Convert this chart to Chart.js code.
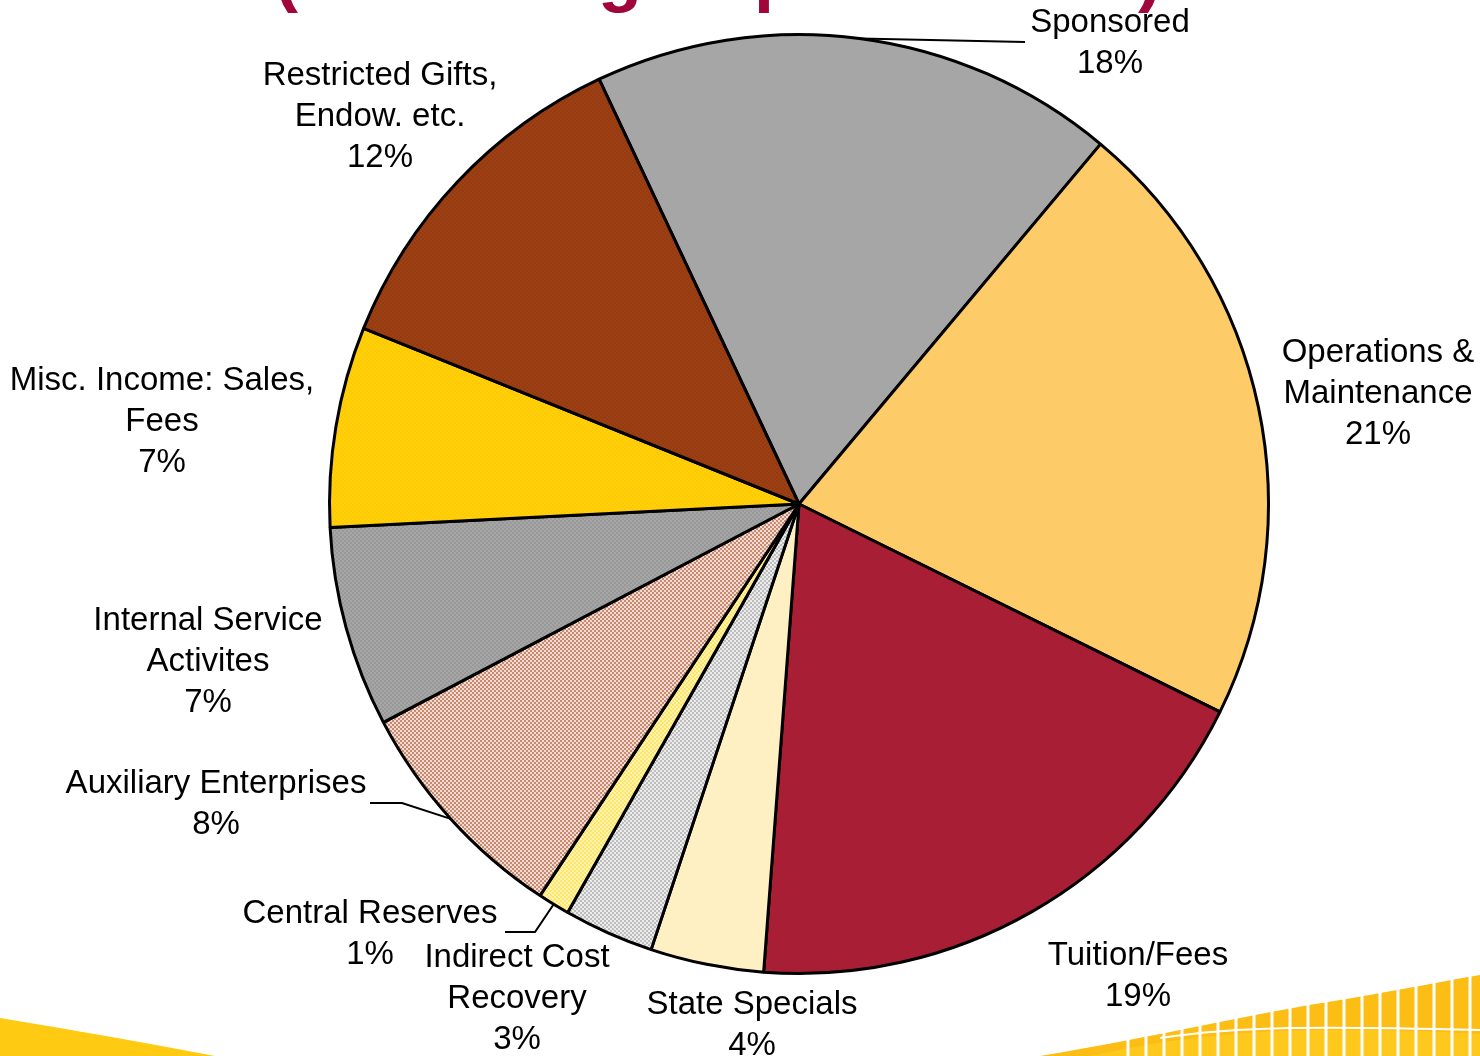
<!DOCTYPE html>
<html>
<head>
<meta charset="utf-8">
<script src="https://cdn.jsdelivr.net/npm/chart.js@4.4.1/dist/chart.umd.min.js"></script>
<style>
  html, body { margin: 0; padding: 0; background: #fff; }
  #wrap { width: 1480px; height: 1056px; position: relative; overflow: hidden; }
</style>
</head>
<body>
<div id="wrap"><canvas id="budgetPie" width="1480" height="1056"></canvas></div>
<script>
// slices, clockwise from the top
const categories = [
  'Sponsored',
  'Operations &\nMaintenance',
  'Tuition/Fees',
  'State Specials',
  'Indirect Cost\nRecovery',
  'Central Reserves',
  'Auxiliary Enterprises',
  'Internal Service\nActivites',
  'Misc. Income: Sales,\nFees',
  'Restricted Gifts,\nEndow. etc.'
];
const shares = [18.1, 21.2, 18.9, 3.9, 3.1, 1.1, 8.0, 6.9, 6.9, 11.9];

const titleText = '(Excluding Capital Funds)';

// label placement (first line centre, relative to pie centre) - layout only
const labelOffsets = [
  [311, -481], [579, -151], [339, 452], [-47, 501], [-282, 454],
  [-429, 410], [-583, 280], [-591, 117], [-637, -123], [-419, -428]
];
// elbow of leader lines, relative to pie centre (null = no leader)
const leaderElbows = [
  [[226, -462]], null, null, null, null,
  [[-294, 428], [-264, 428]], [[-429, 299], [-397, 299]], null, null, null
];

function checker(a, b, size) {
  const c = document.createElement('canvas');
  c.width = size * 2; c.height = size * 2;
  const g = c.getContext('2d');
  g.fillStyle = b; g.fillRect(0, 0, size * 2, size * 2);
  g.fillStyle = a;
  g.fillRect(0, 0, size, size);
  g.fillRect(size, size, size, size);
  return g.createPattern(c, 'repeat');
}

const ctxMain = document.getElementById('budgetPie').getContext('2d');
const sliceFills = [
  '#a6a6a6',
  '#fecb69',
  '#a81e35',
  '#fef0c3',
  checker('#bdbdbd', '#ececec', 2),
  checker('#ffe66a', '#fff3b0', 2),
  checker('#c98a70', '#f0dcd2', 2),
  checker('#999999', '#a6a6a6', 2),
  checker('#ffcb00', '#ffd00e', 2),
  checker('#943b11', '#9e4014', 2)
];

const backdrop = {
  id: 'backdrop',
  beforeDraw(chart) {
    const { ctx, width, height } = chart;
    ctx.save();
    ctx.fillStyle = '#fff';
    ctx.fillRect(0, 0, width, height);

    // cut-off title
    ctx.font = "bold 72px 'Liberation Sans', Arial, sans-serif";
    ctx.fillStyle = '#a1063a';
    ctx.textAlign = 'center';
    ctx.textBaseline = 'alphabetic';
    ctx.fillText(titleText, 718, -2);

    // bottom-left swoosh
    ctx.fillStyle = '#fecb12';
    ctx.beginPath();
    ctx.moveTo(0, 1018);
    ctx.quadraticCurveTo(110, 1036, 215, 1056);
    ctx.lineTo(0, 1056);
    ctx.closePath();
    ctx.fill();

    // bottom-right striped band
    ctx.fillStyle = '#fcbd14';
    ctx.beginPath();
    ctx.moveTo(1040, 1056);
    ctx.bezierCurveTo(1160, 1036, 1260, 1012, 1340, 1000);
    ctx.bezierCurveTo(1400, 990, 1450, 980, 1480, 975);
    ctx.lineTo(1480, 1056);
    ctx.closePath();
    ctx.fill();
    ctx.fillStyle = '#ffc81c';
    ctx.beginPath();
    ctx.moveTo(1090, 1056);
    ctx.bezierCurveTo(1180, 1036, 1260, 1030, 1330, 1030);
    ctx.bezierCurveTo(1400, 1030, 1450, 1032, 1480, 1034);
    ctx.lineTo(1480, 1056);
    ctx.closePath();
    ctx.fill();
    ctx.strokeStyle = '#fff';
    ctx.lineWidth = 3;
    for (let x = 1128; x < 1480; x += 18) {
      ctx.beginPath();
      ctx.moveTo(x, 960);
      ctx.lineTo(x, 1056);
      ctx.stroke();
    }
    ctx.lineWidth = 2;
    ctx.beginPath();
    ctx.moveTo(1160, 1038);
    ctx.bezierCurveTo(1240, 1026, 1320, 1026, 1480, 1030);
    ctx.stroke();
    ctx.restore();
  }
};

const sliceLabels = {
  id: 'sliceLabels',
  afterDatasetsDraw(chart) {
    const { ctx } = chart;
    const arcs = chart.getDatasetMeta(0).data;
    const values = chart.data.datasets[0].data;
    const total = values.reduce((s, v) => s + v, 0);
    const cx = arcs[0].x, cy = arcs[0].y;

    ctx.save();
    ctx.strokeStyle = '#000';
    ctx.lineWidth = 2;
    leaderElbows.forEach((pts, i) => {
      if (!pts) return;
      const a = arcs[i];
      const mid = (a.startAngle + a.endAngle) / 2;
      const ex = a.x + Math.cos(mid) * a.outerRadius;
      const ey = a.y + Math.sin(mid) * a.outerRadius;
      ctx.beginPath();
      ctx.moveTo(ex, ey);
      pts.slice().reverse().forEach(p => ctx.lineTo(cx + p[0], cy + p[1]));
      ctx.stroke();
    });

    ctx.font = "33px 'Liberation Sans', Arial, sans-serif";
    ctx.fillStyle = '#000';
    ctx.textAlign = 'center';
    ctx.textBaseline = 'middle';
    categories.forEach((name, i) => {
      const lines = name.split('\n');
      lines.push(Math.round(values[i] / total * 100) + '%');
      const [dx, dy] = labelOffsets[i];
      lines.forEach((ln, k) => ctx.fillText(ln, cx + dx, cy + dy + k * 41));
    });
    ctx.restore();
  }
};

new Chart(ctxMain, {
  type: 'pie',
  data: {
    labels: categories,
    datasets: [{
      data: shares,
      backgroundColor: sliceFills,
      borderColor: '#000',
      borderWidth: 3,
      hoverOffset: 0
    }]
  },
  options: {
    responsive: false,
    animation: false,
    rotation: -25.2,
    layout: { padding: { left: 328, right: 210, top: 33, bottom: 81 } },
    plugins: {
      legend: { display: false },
      tooltip: { enabled: false }
    }
  },
  plugins: [backdrop, sliceLabels]
});
</script>
</body>
</html>
